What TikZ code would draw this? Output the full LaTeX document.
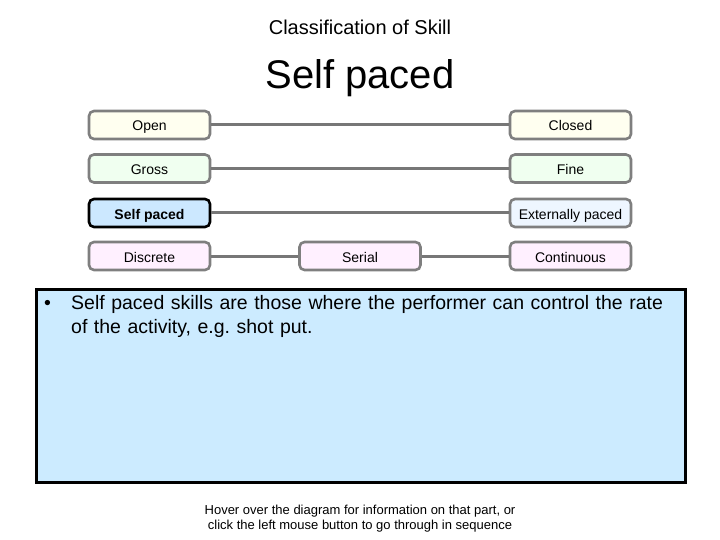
\documentclass[tikz,border=0pt]{standalone}
\usepackage{fontspec}
\setmainfont{Liberation Sans}
\frenchspacing
\definecolor{ivory}{HTML}{FFFFF0}
\definecolor{honey}{HTML}{F0FFF0}
\definecolor{selfblue}{HTML}{CCE8FF}
\definecolor{extblue}{HTML}{EEF6FF}
\definecolor{pinkish}{HTML}{FFF0FF}
\definecolor{panel}{HTML}{CCEBFF}
\definecolor{linegray}{HTML}{777777}
\definecolor{boxgray}{HTML}{7F7F7F}
\tikzset{
  skillbox/.style={draw=boxgray, line width=2.6pt, rounded corners=5pt,
    minimum width=121pt, minimum height=28pt, inner sep=0pt,
    text height=12pt, text depth=0pt,
    font=\fontsize{14}{16}\selectfont, anchor=center},
  activebox/.style={skillbox, draw=black, font=\fontsize{14}{16}\selectfont\bfseries},
  conn/.style={draw=linegray, line width=3pt},
}
\begin{document}
\begin{tikzpicture}[x=1pt,y=-1pt]
\useasboundingbox (0,0) rectangle (720,540);
\node (title) at (360,27) {\fontsize{20}{23}\selectfont Classification of Skill};
\node (head) at (360,78) {\fontsize{40}{45}\selectfont Self paced};

\node[skillbox, fill=ivory] (open) at (149.5,125) {Open};
\node[skillbox, fill=ivory] (closed) at (570.5,125) {Closed};
\node[skillbox, fill=honey] (gross) at (149.5,168.5) {Gross};
\node[skillbox, fill=honey] (fine) at (570.5,168.5) {Fine};
\node[activebox, fill=selfblue] (self) at (149.5,213) {Self paced};
\node[skillbox, fill=extblue] (ext) at (570.5,213) {Externally paced};
\node[skillbox, fill=pinkish] (disc) at (149.5,256) {Discrete};
\node[skillbox, fill=pinkish] (ser) at (360,256) {Serial};
\node[skillbox, fill=pinkish] (cont) at (570.5,256) {Continuous};

\draw[conn] (open) -- (closed);
\draw[conn] (gross) -- (fine);
\draw[conn] (self) -- (ext);
\draw[conn] (disc) -- (ser);
\draw[conn] (ser) -- (cont);

\node[draw=black, line width=3pt, fill=panel, minimum width=649pt, minimum height=193pt, inner sep=0pt] (panel) at (360.5,385.5) {};
\node[anchor=north west, inner sep=0pt, align=left, text width=640pt,
  font=\fontsize{19.5}{24}\selectfont] (bul) at (42,295)
  {\makebox[29pt][l]{\hspace*{2pt}\textbullet}Self paced skills are those where the performer can control the rate\\
   \hspace*{29pt}of the activity, e.g. shot put.};

\node[align=center, font=\fontsize{13}{15}\selectfont] (foot) at (360,518.5)
  {Hover over the diagram for information on that part, or\\click the left mouse button to go through in sequence};
\end{tikzpicture}
\end{document}
